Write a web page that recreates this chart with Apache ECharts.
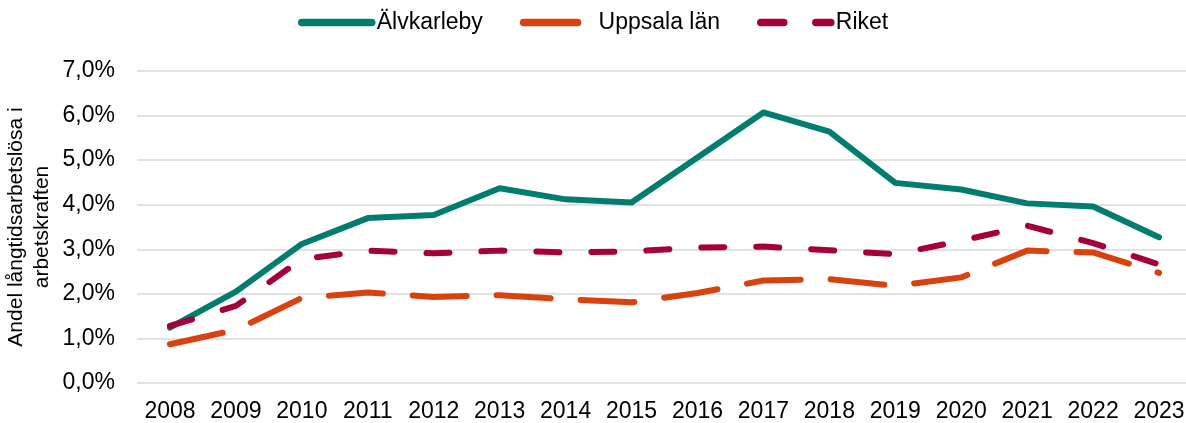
<!DOCTYPE html>
<html>
<head>
<meta charset="utf-8">
<script src="https://cdn.jsdelivr.net/npm/echarts@6/dist/echarts.min.js"></script>
<style>
  html, body { margin: 0; padding: 0; background: #fff; }
  #chart { width: 1186px; height: 423px; }
</style>
</head>
<body>
<div id="chart"></div>
<script>
// år på x-axeln
var years = ['2008','2009','2010','2011','2012','2013','2014','2015','2016','2017','2018','2019','2020','2021','2022','2023'];
// andel i procent
var alvkarleby = [1.24, 2.05, 3.12, 3.70, 3.77, 4.37, 4.12, 4.05, 5.06, 6.07, 5.64, 4.49, 4.34, 4.03, 3.96, 3.27];
var uppsalaLan = [0.87, 1.19, 1.91, 2.03, 1.93, 1.97, 1.88, 1.81, 2.02, 2.30, 2.33, 2.18, 2.37, 2.97, 2.93, 2.47];
var riket      = [1.28, 1.73, 2.78, 2.97, 2.91, 2.97, 2.93, 2.95, 3.04, 3.06, 2.98, 2.89, 3.19, 3.53, 3.14, 2.66];
var seriesNames = ['Älvkarleby', 'Uppsala län', 'Riket'];
var yAxisName = 'Andel långtidsarbetslösa i\narbetskraften';

var font = 'Liberation Sans, Arial, sans-serif';
var chart = echarts.init(document.getElementById('chart'));

function pct(v) {
    return v.toFixed(1).replace('.', ',') + '%';
}

var option = {
    animation: false,
    textStyle: { fontFamily: font },
    legend: {
        left: 298,
        top: 11,
        padding: 0,
        itemWidth: 70,
        itemHeight: 24,
        itemGap: 37,
        textStyle: { fontSize: 23, color: '#000', fontFamily: font },
        itemStyle: { opacity: 0 },
        lineStyle: { width: 7.5, cap: 'round' },
        data: seriesNames
    },
    grid: { left: 137, right: -6, top: 71, bottom: 40, outerBoundsMode: 'none', containLabel: false },
    xAxis: {
        type: 'category',
        data: years,
        boundaryGap: true,
        axisLine: { show: false },
        axisTick: { show: false },
        axisLabel: { fontSize: 23, color: '#000', margin: 17, fontFamily: font, interval: 0 }
    },
    yAxis: {
        type: 'value',
        min: 0,
        max: 7,
        interval: 1,
        name: yAxisName,
        nameLocation: 'middle',
        nameRotate: 90,
        nameGap: 82,
        nameMoveOverlap: false,
        nameTextStyle: { fontSize: 21, color: '#000', lineHeight: 26, fontFamily: font },
        axisLabel: { fontSize: 23, color: '#000', margin: 22, formatter: pct, fontFamily: font },
        splitLine: { lineStyle: { color: '#d9d9d9', width: 1.5 } }
    },
    series: [
        {
            name: seriesNames[0],
            type: 'line',
            data: alvkarleby,
            symbol: 'none',
            lineStyle: { color: '#007D6E', width: 6, cap: 'round', join: 'round' },
            itemStyle: { color: '#007D6E' },
            z: 3
        },
        {
            name: seriesNames[1],
            type: 'line',
            data: uppsalaLan,
            symbol: 'none',
            lineStyle: { color: '#D9420F', width: 6, type: [54, 30], cap: 'round', join: 'round' },
            itemStyle: { color: '#D9420F' },
            z: 2
        },
        {
            name: seriesNames[2],
            type: 'line',
            data: riket,
            symbol: 'none',
            lineStyle: { color: '#A6003C', width: 6, type: [23, 32], cap: 'round', join: 'round' },
            itemStyle: { color: '#A6003C' },
            z: 4
        }
    ]
};

chart.setOption(option);
</script>
</body>
</html>
